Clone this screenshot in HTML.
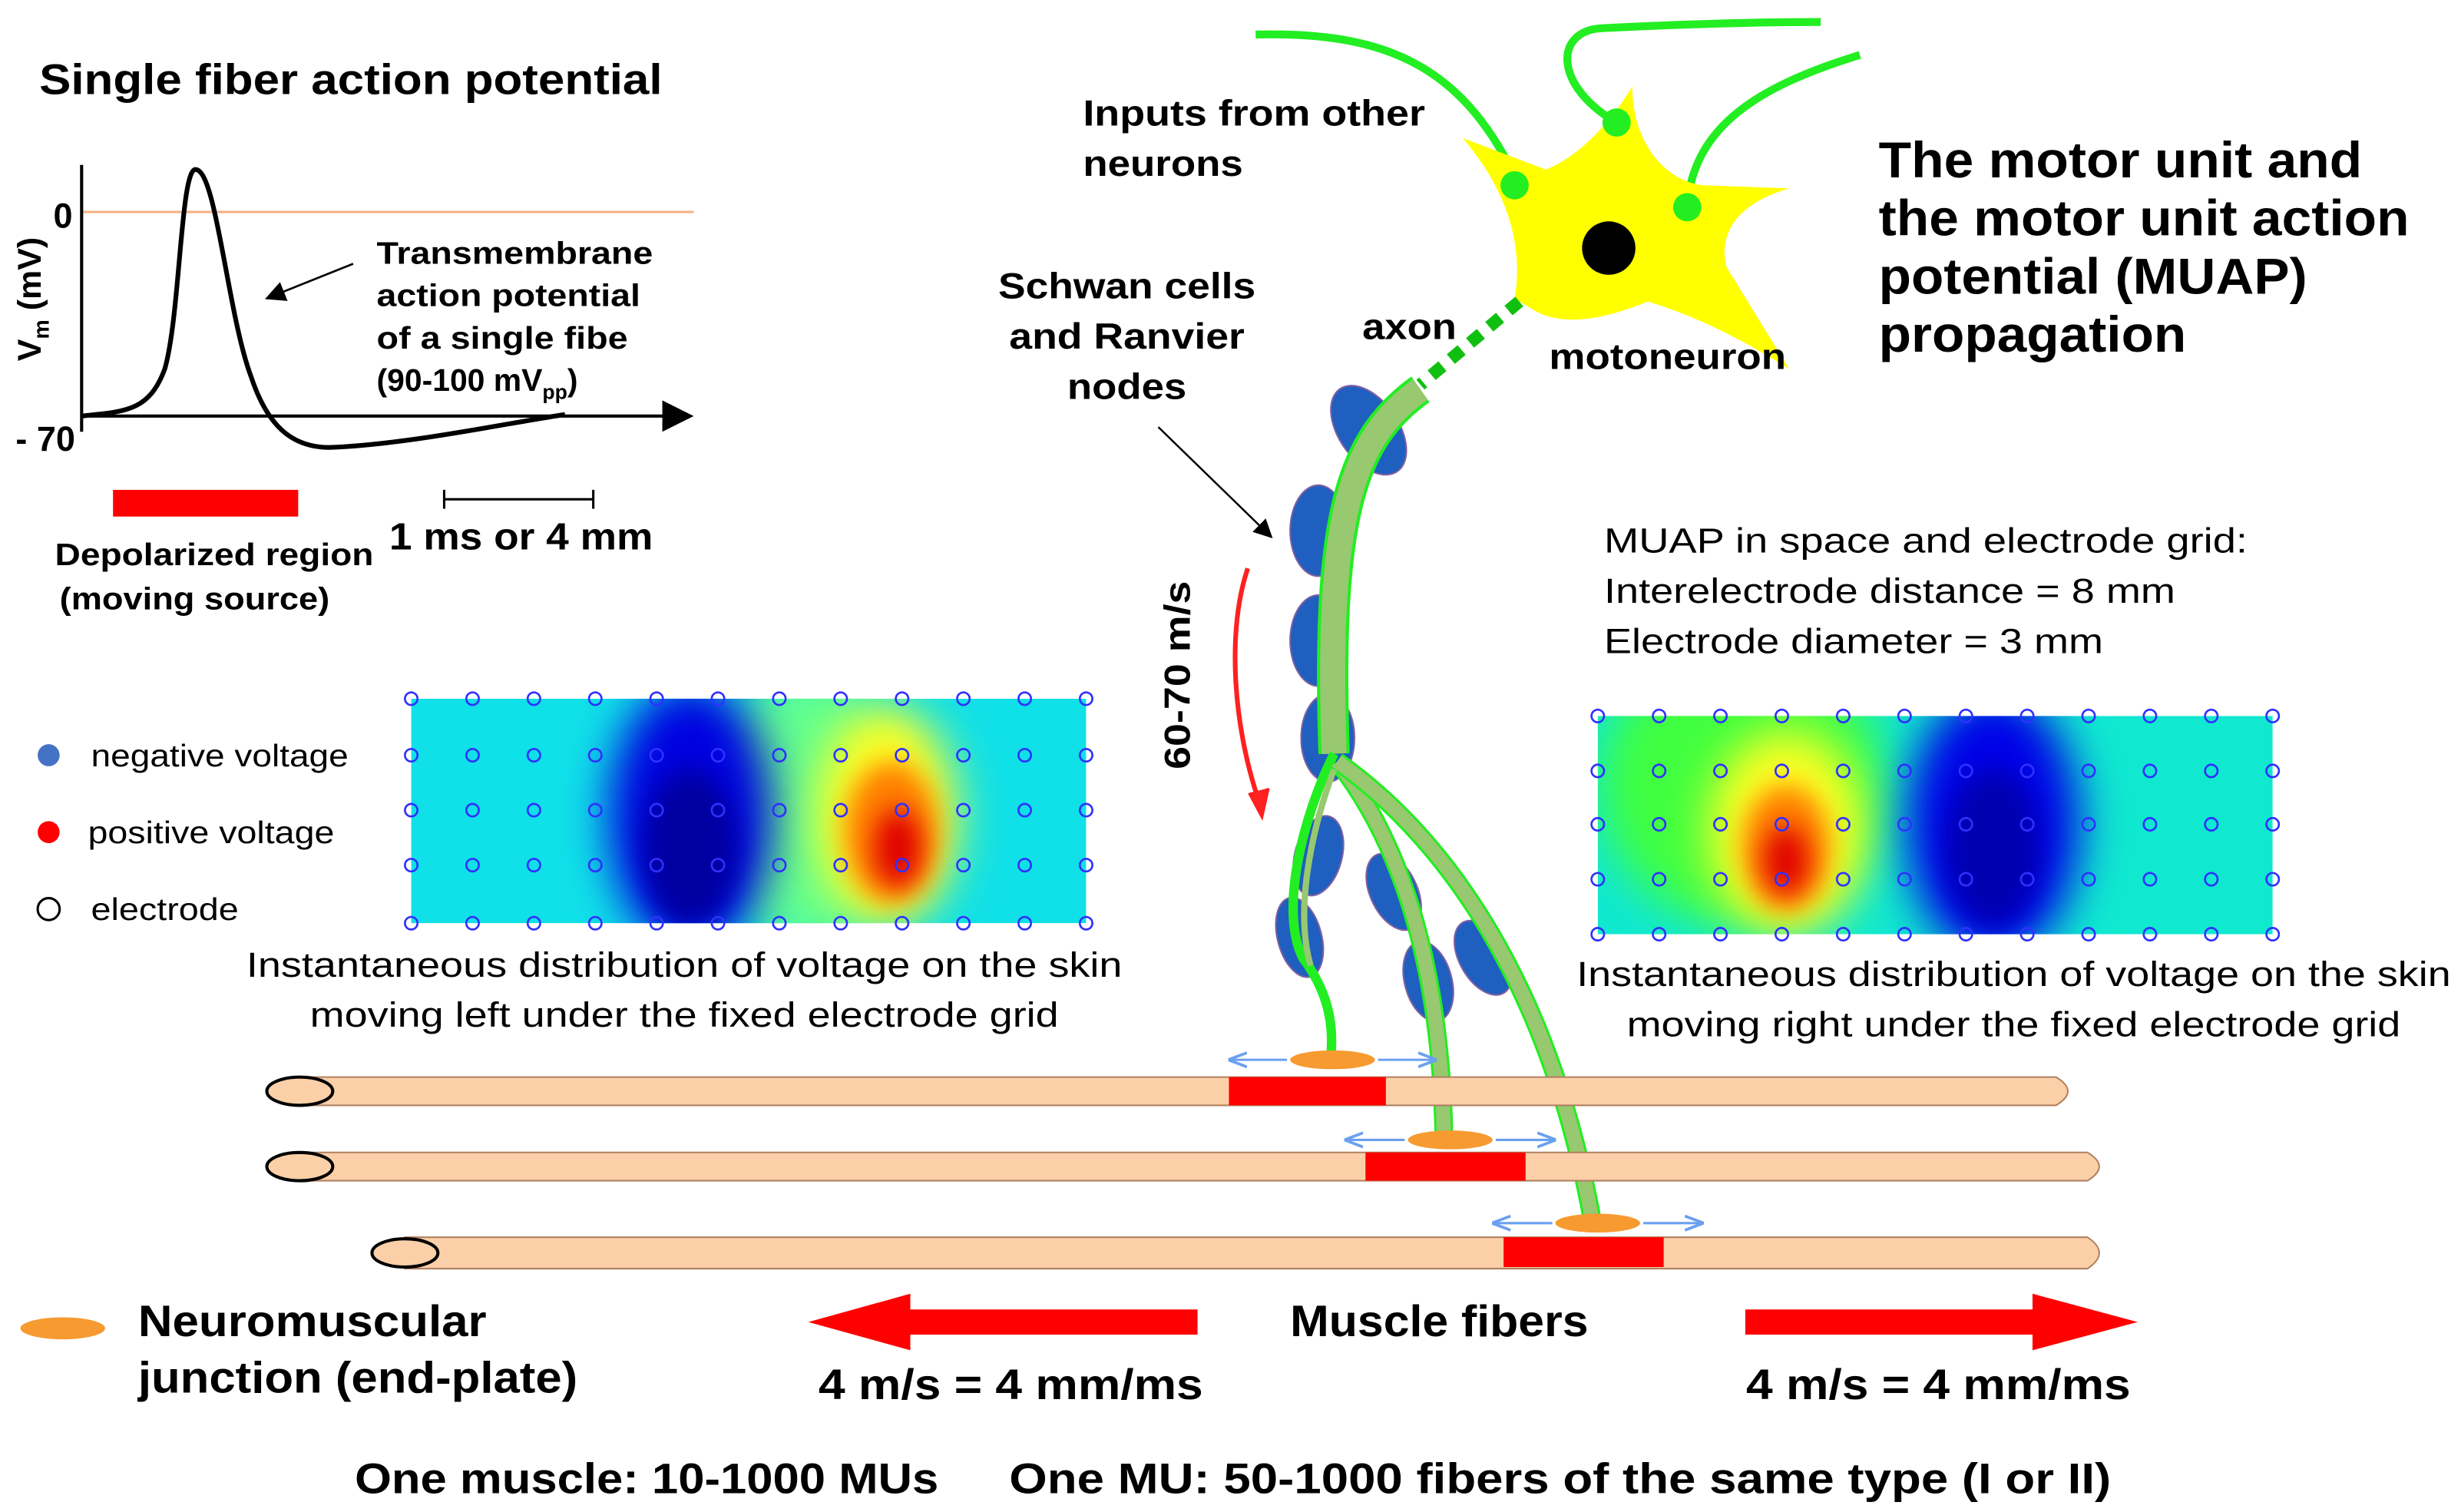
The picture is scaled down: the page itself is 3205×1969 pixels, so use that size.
<!DOCTYPE html>
<html><head><meta charset="utf-8"><style>
html,body{margin:0;padding:0;background:#fff}
svg{display:block}
text{font-family:"Liberation Sans",Arial,sans-serif;fill:#000}
.b{font-weight:bold}
</style></head><body>
<svg width="3205" height="1969" viewBox="0 0 1568 963" preserveAspectRatio="none" xmlns="http://www.w3.org/2000/svg">
<defs>
<filter id="bl" x="-50%" y="-50%" width="200%" height="200%"><feGaussianBlur stdDeviation="14"/></filter>
<filter id="bl2" x="-50%" y="-50%" width="200%" height="200%"><feGaussianBlur stdDeviation="8"/></filter>
<clipPath id="cl"><rect x="262" y="445" width="430" height="143"/></clipPath>
<clipPath id="cr"><rect x="1018" y="456" width="430" height="139"/></clipPath>
<marker id="ah" markerWidth="10" markerHeight="10" refX="9" refY="5" orient="auto"><path d="M0,0 L10,5 L0,10 Z" fill="#000"/></marker>
<marker id="ab" markerWidth="8" markerHeight="8" refX="7" refY="4" orient="auto"><path d="M0,1 L8,4 L0,7" fill="none" stroke="#6aa0ee" stroke-width="1.2"/></marker>
</defs>

<text class="b" x="25" y="60" font-size="27" textLength="397" lengthAdjust="spacingAndGlyphs">Single fiber action potential</text>
<line x1="52" y1="135" x2="442" y2="135" stroke="#f4b183" stroke-width="1.5"/>
<line x1="52" y1="105" x2="52" y2="275" stroke="#000" stroke-width="2"/>
<line x1="52" y1="265" x2="440" y2="265" stroke="#000" stroke-width="2" marker-end="url(#ah)"/>
<text class="b" x="34" y="145" font-size="22">0</text>
<text class="b" x="10" y="287" font-size="22">- 70</text>
<text class="b" transform="translate(26,230) rotate(-90)" font-size="21">V<tspan font-size="14" dy="5">m</tspan><tspan dy="-5"> (mV)</tspan></text>
<path d="M52,265 C80,262 95,262 105,235 C115,200 115,105 125,108 C138,110 145,200 160,240 C170,270 185,285 210,285 C260,283 320,270 360,264" fill="none" stroke="#000" stroke-width="3"/>
<line x1="225" y1="168" x2="170" y2="190" stroke="#000" stroke-width="1.3" marker-end="url(#ah)"/>
<g class="b" font-size="20">
<text x="240" y="168" textLength="176" lengthAdjust="spacingAndGlyphs">Transmembrane</text><text x="240" y="195" textLength="168" lengthAdjust="spacingAndGlyphs">action potential</text><text x="240" y="222" textLength="160" lengthAdjust="spacingAndGlyphs">of a single fibe</text><text x="240" y="249">(90-100 mV<tspan font-size="13" dy="5">pp</tspan><tspan dy="-5">)</tspan></text></g>
<rect x="72" y="312" width="118" height="17" fill="#ff0000"/>
<path d="M283,312 V324 M283,318 H378 M378,312 V324" stroke="#000" stroke-width="1.5"/>
<text class="b" x="248" y="350" font-size="24" textLength="168" lengthAdjust="spacingAndGlyphs">1 ms or 4 mm</text>
<text class="b" x="35" y="360" font-size="20" textLength="203" lengthAdjust="spacingAndGlyphs">Depolarized region</text>
<text class="b" x="38" y="388" font-size="20" textLength="172" lengthAdjust="spacingAndGlyphs">(moving source)</text>

<circle cx="31" cy="481" r="7" fill="#4472c4"/>
<text x="58" y="488" font-size="20" textLength="164" lengthAdjust="spacingAndGlyphs">negative voltage</text>
<circle cx="31" cy="530" r="7" fill="#ff0000"/>
<text x="56" y="537" font-size="20" textLength="157" lengthAdjust="spacingAndGlyphs">positive voltage</text>
<circle cx="31" cy="579" r="7" fill="none" stroke="#000" stroke-width="1.5"/>
<text x="58" y="586" font-size="20" textLength="94" lengthAdjust="spacingAndGlyphs">electrode</text>

<g clip-path="url(#cl)">
<rect x="262" y="445" width="430" height="143" fill="#10e0e8"/>
<ellipse cx="515" cy="515" rx="60" ry="90" fill="#60ff90" filter="url(#bl)"/>
<ellipse cx="440" cy="520" rx="52" ry="85" fill="#0000e0" filter="url(#bl)"/>
<ellipse cx="440" cy="540" rx="30" ry="50" fill="#0000a0" filter="url(#bl2)"/>
<ellipse cx="565" cy="520" rx="45" ry="70" fill="#ffff20" filter="url(#bl)"/>
<ellipse cx="568" cy="530" rx="30" ry="45" fill="#ff8000" filter="url(#bl2)"/>
<ellipse cx="572" cy="540" rx="15" ry="25" fill="#e00000" filter="url(#bl2)"/>
</g>
<g clip-path="url(#cr)">
<rect x="1018" y="456" width="430" height="139" fill="#10e8d0"/>
<ellipse cx="1110" cy="500" rx="90" ry="90" fill="#40ff40" filter="url(#bl)"/>
<ellipse cx="1138" cy="530" rx="50" ry="65" fill="#ffff20" filter="url(#bl)"/>
<ellipse cx="1138" cy="540" rx="28" ry="40" fill="#ff8000" filter="url(#bl2)"/>
<ellipse cx="1138" cy="548" rx="14" ry="22" fill="#e00000" filter="url(#bl2)"/>
<ellipse cx="1270" cy="525" rx="55" ry="85" fill="#0000e8" filter="url(#bl)"/>
<ellipse cx="1270" cy="540" rx="30" ry="50" fill="#0000b0" filter="url(#bl2)"/>
</g>
<g id="elecs" fill="none" stroke="#3030ff" stroke-width="1.3"></g>

<g font-size="22" text-anchor="middle">
<text x="436" y="622" textLength="558" lengthAdjust="spacingAndGlyphs">Instantaneous distribution of voltage on the skin</text>
<text x="436" y="654" textLength="477" lengthAdjust="spacingAndGlyphs">moving left under the fixed electrode grid</text></g>
<g font-size="22" text-anchor="middle">
<text x="1283" y="628" textLength="557" lengthAdjust="spacingAndGlyphs">Instantaneous distribution of voltage on the skin</text>
<text x="1283" y="660" textLength="493" lengthAdjust="spacingAndGlyphs">moving right under the fixed electrode grid</text></g>
<g font-size="22">
<text x="1022" y="352" textLength="410" lengthAdjust="spacingAndGlyphs">MUAP in space and electrode grid:</text>
<text x="1022" y="384" textLength="364" lengthAdjust="spacingAndGlyphs">Interelectrode distance = 8 mm</text>
<text x="1022" y="416" textLength="318" lengthAdjust="spacingAndGlyphs">Electrode diameter = 3 mm</text></g>
<g class="b" font-size="32">
<text x="1197" y="113" textLength="308" lengthAdjust="spacingAndGlyphs">The motor unit and</text><text x="1197" y="150" textLength="338" lengthAdjust="spacingAndGlyphs">the motor unit action</text>
<text x="1197" y="187" textLength="273" lengthAdjust="spacingAndGlyphs">potential (MUAP)</text><text x="1197" y="224" textLength="196" lengthAdjust="spacingAndGlyphs">propagation</text></g>

<g>
<path d="M965,112 C930,40 880,20 800,22" fill="none" stroke="#22ee22" stroke-width="5"/>
<path d="M1030,78 C990,55 990,20 1020,18 C1080,15 1120,14 1160,14" fill="none" stroke="#22ee22" stroke-width="5"/>
<path d="M1075,130 C1080,80 1120,55 1185,35" fill="none" stroke="#22ee22" stroke-width="5"/>
<path d="M932,88 L985,108 C1005,100 1025,80 1040,55 C1040,90 1060,115 1085,118 L1140,120 C1105,130 1095,150 1100,170 L1140,235 C1100,210 1075,200 1050,192 C1030,200 1000,210 978,198 L965,190 C972,150 955,115 932,88 Z" fill="#ffff00"/>
<circle cx="1025" cy="158" r="17" fill="#000"/>
<circle cx="965" cy="118" r="9" fill="#22ee22"/><circle cx="1030" cy="78" r="9" fill="#22ee22"/><circle cx="1075" cy="132" r="9" fill="#22ee22"/>
<path d="M968,192 L905,245" stroke="#10c010" stroke-width="8" stroke-dasharray="9,7"/>
</g>
<g class="b" font-size="23">
<text x="690" y="80" textLength="218" lengthAdjust="spacingAndGlyphs">Inputs from other</text><text x="690" y="112" textLength="102" lengthAdjust="spacingAndGlyphs">neurons</text>
<text x="868" y="216" textLength="60" lengthAdjust="spacingAndGlyphs">axon</text><text x="987" y="235" textLength="151" lengthAdjust="spacingAndGlyphs">motoneuron</text>
<text x="718" y="190" text-anchor="middle" textLength="164" lengthAdjust="spacingAndGlyphs">Schwan cells</text><text x="718" y="222" text-anchor="middle" textLength="150" lengthAdjust="spacingAndGlyphs">and Ranvier</text><text x="718" y="254" text-anchor="middle" textLength="76" lengthAdjust="spacingAndGlyphs">nodes</text></g>
<line x1="738" y1="272" x2="810" y2="342" stroke="#000" stroke-width="1.2" marker-end="url(#ah)"/>
<text class="b" transform="translate(758,490) rotate(-90)" font-size="23" textLength="120" lengthAdjust="spacingAndGlyphs">60-70 m/s</text>
<path d="M795,362 C782,400 785,460 802,510" fill="none" stroke="#ff2020" stroke-width="3"/>
<path d="M796,505 L804,520 L808,502" fill="#ff2020" stroke="#ff2020" stroke-width="2"/>

<g fill="#1f5fbf" stroke="#8060a0" stroke-width="1">
<ellipse cx="872" cy="274" rx="19" ry="32" transform="rotate(-35 872 274)"/>
<ellipse cx="840" cy="338" rx="18" ry="29"/>
<ellipse cx="840" cy="408" rx="18" ry="29"/>
<ellipse cx="846" cy="470" rx="17" ry="28"/>
<ellipse cx="840" cy="545" rx="15" ry="26" transform="rotate(15 840 545)"/>
<ellipse cx="828" cy="597" rx="14" ry="26" transform="rotate(-15 828 597)"/>
<ellipse cx="888" cy="568" rx="15" ry="26" transform="rotate(-25 888 568)"/>
<ellipse cx="910" cy="625" rx="15" ry="26" transform="rotate(-15 910 625)"/>
<ellipse cx="945" cy="610" rx="15" ry="26" transform="rotate(-30 945 610)"/>
</g>
<g fill="none">
<path d="M905,248 C860,280 845,330 850,480" stroke="#22ee22" stroke-width="20"/>
<path d="M905,248 C860,280 845,330 850,480" stroke="#98c870" stroke-width="16"/>
<path d="M850,480 C830,520 815,580 830,610 C845,630 850,650 848,672" stroke="#22ee22" stroke-width="6"/>
<path d="M852,485 C895,540 918,620 920,725" stroke="#22ee22" stroke-width="12"/>
<path d="M852,485 C895,540 918,620 920,725" stroke="#98c870" stroke-width="9"/>
<path d="M852,485 C930,540 990,640 1015,780" stroke="#22ee22" stroke-width="12"/>
<path d="M852,485 C930,540 990,640 1015,780" stroke="#98c870" stroke-width="9"/>
<path d="M850,490 C835,530 825,580 835,615" stroke="#98c870" stroke-width="4"/>
</g>

<g>
<path d="M190,686 H1310 Q1325,695 1310,704 H190 Z" fill="#fbd0a8" stroke="#b08060" stroke-width="1"/>
<ellipse cx="191" cy="695" rx="21" ry="9" fill="#fbd0a8" stroke="#000" stroke-width="2"/>
<path d="M190,734 H1330 Q1345,743 1330,752 H190 Z" fill="#fbd0a8" stroke="#b08060" stroke-width="1"/>
<ellipse cx="191" cy="743" rx="21" ry="9" fill="#fbd0a8" stroke="#000" stroke-width="2"/>
<path d="M258,788 H1330 Q1345,798 1330,808 H258 Z" fill="#fbd0a8" stroke="#b08060" stroke-width="1"/>
<ellipse cx="258" cy="798" rx="21" ry="9" fill="#fbd0a8" stroke="#000" stroke-width="2"/>
<rect x="783" y="686" width="100" height="18" fill="#ff0000"/>
<rect x="870" y="734" width="102" height="18" fill="#ff0000"/>
<rect x="958" y="788" width="102" height="19" fill="#ff0000"/>
</g>
<g>
<ellipse cx="849" cy="675" rx="27" ry="6" fill="#f79a30"/>
<ellipse cx="924" cy="726" rx="27" ry="6" fill="#f79a30"/>
<ellipse cx="1018" cy="779" rx="27" ry="6" fill="#f79a30"/>
<g stroke="#6aa0ee" stroke-width="1.5" fill="none">
<line x1="820" y1="675" x2="784" y2="675" marker-end="url(#ab)"/><line x1="878" y1="675" x2="914" y2="675" marker-end="url(#ab)"/>
<line x1="895" y1="726" x2="858" y2="726" marker-end="url(#ab)"/><line x1="953" y1="726" x2="990" y2="726" marker-end="url(#ab)"/>
<line x1="989" y1="779" x2="952" y2="779" marker-end="url(#ab)"/><line x1="1047" y1="779" x2="1084" y2="779" marker-end="url(#ab)"/>
</g></g>

<ellipse cx="40" cy="846" rx="27" ry="7" fill="#f79a30"/>
<text class="b" x="88" y="851" font-size="28" textLength="222" lengthAdjust="spacingAndGlyphs">Neuromuscular</text>
<text class="b" x="88" y="887" font-size="28" textLength="280" lengthAdjust="spacingAndGlyphs">junction (end-plate)</text>
<path d="M763,834 H580 V824 L515,842 L580,860 V850 H763 Z" fill="#ff0000"/>
<path d="M1112,834 H1295 V824 L1362,842 L1295,860 V850 H1112 Z" fill="#ff0000"/>
<text class="b" x="917" y="851" font-size="28" text-anchor="middle" textLength="190" lengthAdjust="spacingAndGlyphs">Muscle fibers</text>
<text class="b" x="644" y="891" font-size="27" text-anchor="middle" textLength="245" lengthAdjust="spacingAndGlyphs">4 m/s = 4 mm/ms</text>
<text class="b" x="1235" y="891" font-size="27" text-anchor="middle" textLength="245" lengthAdjust="spacingAndGlyphs">4 m/s = 4 mm/ms</text>
<text class="b" x="226" y="951" font-size="27" textLength="372" lengthAdjust="spacingAndGlyphs">One muscle: 10-1000 MUs</text>
<text class="b" x="643" y="951" font-size="27" textLength="702" lengthAdjust="spacingAndGlyphs">One MU:  50-1000 fibers of the same type  (I or II)</text>
</svg>
<script>
const g=document.getElementById('elecs');
const grids=[[262,692,[445,481,516,551,588]],[1018,1448,[456,491,525,560,595]]];
grids.forEach(([x0,x1,ys])=>{
 for(let i=0;i<12;i++){const x=x0+(x1-x0)*i/11;
  ys.forEach(y=>{const c=document.createElementNS('http://www.w3.org/2000/svg','circle');
   c.setAttribute('cx',x);c.setAttribute('cy',y);c.setAttribute('r',4);
   
   
   g.appendChild(c);});}
});
</script>
</body></html>
